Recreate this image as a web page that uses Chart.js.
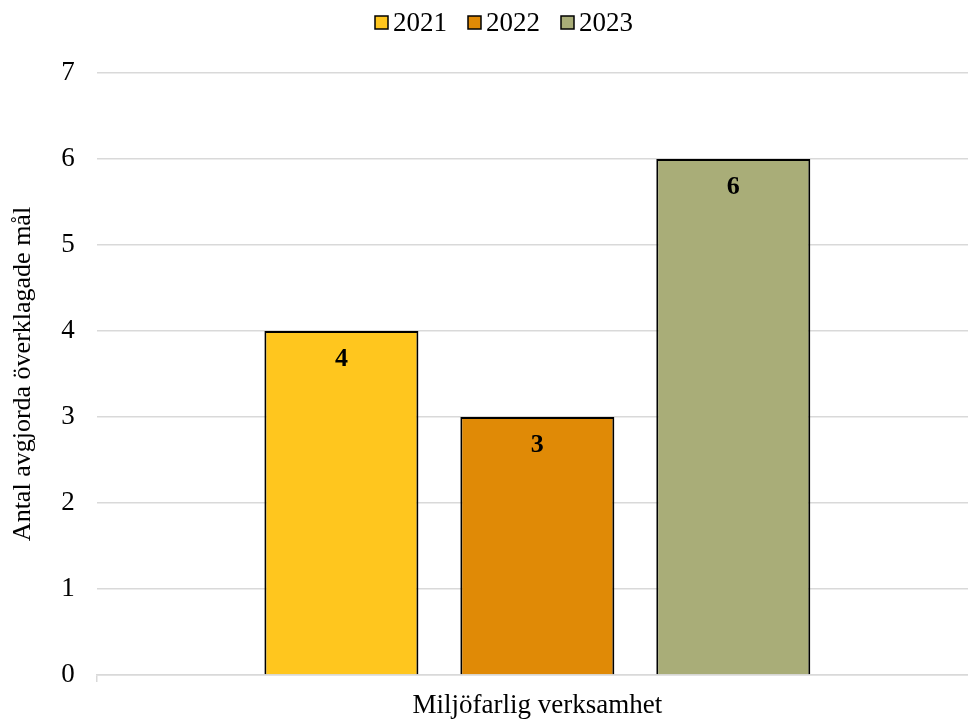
<!DOCTYPE html>
<html>
<head>
<meta charset="utf-8">
<script src="https://cdn.jsdelivr.net/npm/chart.js@4"></script>
<style>
  html, body { margin: 0; padding: 0; background: #fff; overflow: hidden; }
  #wrap { width: 978px; height: 719px; }
</style>
</head>
<body>
<div id="wrap"><canvas id="chart" width="978" height="719"></canvas></div>
<script>
// Data
const categories = ['Miljöfarlig verksamhet'];
const years = ['2021', '2022', '2023'];
const values2021 = [4];
const values2022 = [3];
const values2023 = [6];
const barColors = ['#FFC61E', '#E08A06', '#A9AD78'];

const serif = "'Liberation Serif', 'Times New Roman', serif";

// Skriver värdet inuti varje stapel
const valueLabels = {
    id: 'valueLabels',
    afterDatasetsDraw(chart) {
        const ctx = chart.ctx;
        ctx.save();
        ctx.font = 'bold 26px ' + serif;
        ctx.fillStyle = '#000';
        ctx.textAlign = 'center';
        ctx.textBaseline = 'middle';
        chart.data.datasets.forEach((ds, i) => {
            chart.getDatasetMeta(i).data.forEach((bar, j) => {
                ctx.fillText(ds.data[j], bar.x, bar.y + 28);
            });
        });
        ctx.restore();
    }
};

// Egen legend (Excel-stil: liten ruta tätt intill texten)
const topLegend = {
    id: 'topLegend',
    afterDraw(chart) {
        const ctx = chart.ctx;
        const box = 13, gap = 5, spacing = 21, centerX = 504;
        ctx.save();
        ctx.font = '27px ' + serif;
        ctx.textBaseline = 'alphabetic';
        ctx.textAlign = 'left';
        const items = chart.data.datasets.map(ds => ({ ds, w: ctx.measureText(ds.label).width }));
        const total = items.reduce((s, it) => s + box + gap + it.w, 0) + spacing * (items.length - 1);
        let x = centerX - total / 2;
        items.forEach(it => {
            ctx.fillStyle = it.ds.backgroundColor;
            ctx.fillRect(x, 16, box, box);
            ctx.strokeStyle = '#000';
            ctx.lineWidth = 1.5;
            ctx.strokeRect(x, 16, box, box);
            ctx.fillStyle = '#000';
            ctx.fillText(it.ds.label, x + box + gap, 31);
            x += box + gap + it.w + spacing;
        });
        ctx.restore();
    }
};

const datasets = [values2021, values2022, values2023].map((vals, i) => ({
    label: years[i],
    data: vals,
    backgroundColor: barColors[i],
    borderColor: '#000',
    borderWidth: 2,
    borderSkipped: 'bottom',
    categoryPercentage: 0.667,
    barPercentage: 0.786
}));

new Chart(document.getElementById('chart'), {
    type: 'bar',
    data: { labels: categories, datasets: datasets },
    plugins: [valueLabels, topLegend],
    options: {
        responsive: false,
        animation: false,
        devicePixelRatio: 1,
        layout: { padding: { top: 73, bottom: -10, left: 8, right: 0 } },
        plugins: {
            legend: { display: false },
            tooltip: { enabled: false }
        },
        scales: {
            x: {
                grid: { display: true, drawOnChartArea: false, color: '#d9d9d9', tickLength: 7, lineWidth: 1.5 },
                border: { display: true, color: '#d9d9d9', width: 1.5 },
                ticks: { font: { family: serif, size: 27, lineHeight: 1 }, color: '#000', padding: 10 }
            },
            y: {
                min: 0,
                max: 7,
                ticks: { stepSize: 1, font: { family: serif, size: 27 }, color: '#000', padding: 22 },
                grid: { color: '#d9d9d9', drawTicks: false, lineWidth: 1.5 },
                border: { display: false },
                title: {
                    display: true,
                    text: 'Antal avgjorda överklagade mål',
                    font: { family: serif, size: 26 },
                    color: '#000',
                    padding: 0
                }
            }
        }
    }
});
</script>
</body>
</html>
